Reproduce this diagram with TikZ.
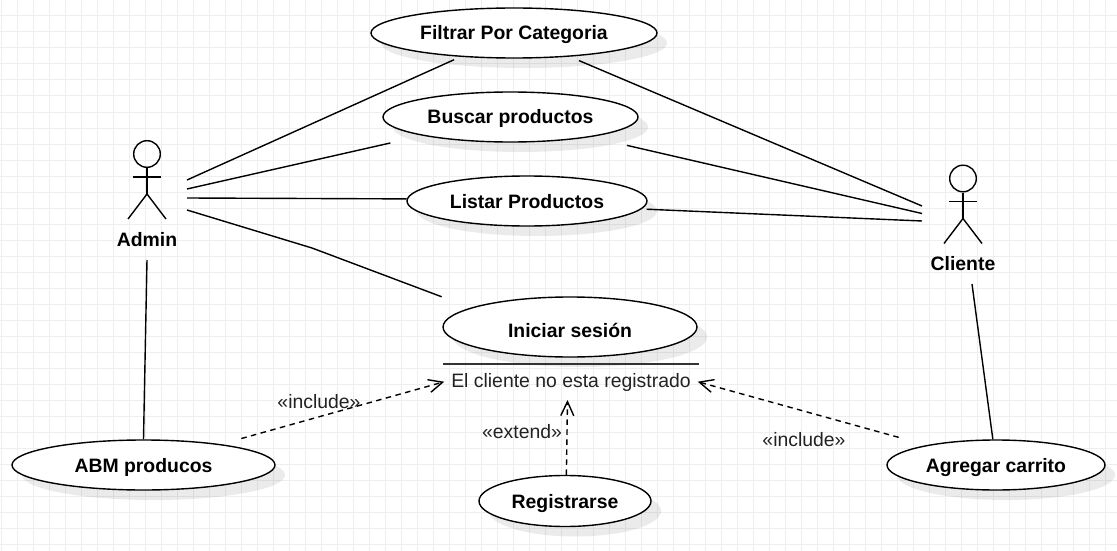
\documentclass[tikz,border=0pt]{standalone}
\usepackage{fontspec}
\setmainfont{Liberation Sans}
\usepackage{xcolor}
\usetikzlibrary{arrows.meta, shapes.geometric, shadows}
\definecolor{gridGray}{RGB}{238, 238, 238}
\definecolor{textDark}{RGB}{34, 34, 34}
\definecolor{ruleDark}{RGB}{51, 51, 51}

\begin{document}
\begin{tikzpicture}[x=1pt, y=-1pt, line width=1.4pt,
    usecase/.style={draw, ellipse, fill=white, inner sep=0pt, text height=14pt, text depth=0pt,
      font=\fontsize{19.4}{22}\selectfont\bfseries,
      drop shadow={shadow xshift=10pt, shadow yshift=-10pt, fill=black, opacity=.08}},
    actorname/.style={font=\fontsize{19.4}{22}\selectfont\bfseries},
    stereo/.style={font=\fontsize{19.4}{22}\selectfont, text=textDark},
    depends/.style={dashed, dash pattern=on 5.5pt off 4.5pt, -{Straight Barb[length=14pt, width=13pt, line width=1.4pt]}}]
  \useasboundingbox (0,0) rectangle (1117,551);
  \fill[white] (0,0) rectangle (1117,551);
  % grid
  \foreach \gx in {1,17,...,1117} \draw[gridGray, line width=1pt] (\gx,0) -- (\gx,551);
  \foreach \gy in {0,16,...,551} \draw[gridGray, line width=1pt] (0,\gy) -- (1117,\gy);

  % use cases
  \node[usecase, minimum width=286pt, minimum height=50pt] (filtrar) at (514,33) {Filtrar Por Categoria};
  \node[usecase, minimum width=255pt, minimum height=50pt] (buscar) at (510.5,117) {Buscar productos};
  \node[usecase, minimum width=240pt, minimum height=50pt] (listar) at (527,201) {Listar Productos};
  \node[usecase, minimum width=254pt, minimum height=60pt, text height=20pt] (iniciar) at (570,327) {Iniciar sesión};
  \node[usecase, minimum width=263pt, minimum height=50pt] (abm) at (143.5,465) {ABM producos};
  \node[usecase, minimum width=172pt, minimum height=51pt] (registrarse) at (565,501) {Registrarse};
  \node[usecase, minimum width=218pt, minimum height=50pt] (agregar) at (996,465) {Agregar carrito};
  \node[stereo, minimum width=254pt, minimum height=35pt, inner sep=0pt] (condicion) at (571,382) {El cliente no esta registrado};
  \draw[ruleDark] (condicion.north west) -- (condicion.north east);

  % actors
  \foreach \who/\ax/\ay/\name in {admin/147/154/Admin, cliente/963/178.5/Cliente} {
    \node[draw, circle, inner sep=0pt, minimum size=26.6pt] (\who Head) at (\ax,\ay) {};
    \draw (\who Head.south) -- ++(0,26) coordinate (\who Hip);
    \draw (\ax-14,\ay+23) -- (\ax+14,\ay+23);
    \draw (\ax-19,\ay+65) -- (\who Hip) -- (\ax+19,\ay+65);
    \node[actorname] (\who) at (\ax,\ay+85.5) {\name};
  }
  \coordinate (adminA) at (187,180);
  \coordinate (adminB) at (187,189);
  \coordinate (adminC) at (187,198);
  \coordinate (adminD) at (187,210);
  \coordinate (bendD) at (312,248);
  \coordinate (adminE) at (147,260);
  \coordinate (clienteA) at (922,206);
  \coordinate (clienteB) at (922,213.5);
  \coordinate (clienteC) at (922,221);
  \coordinate (clienteE) at (972,284);
  \coordinate (extTip) at (567.5,400);

  % associations
  \draw[shorten >=7pt] (adminA) -- (filtrar.204.6);
  \draw[shorten >=33pt] (adminB) -- (buscar.192.5);
  \draw (adminC) -- (listar.179.5);
  \draw[shorten >=31pt] (adminD) -- (bendD) -- (iniciar.169.5);
  \draw (adminE) -- (abm.north);
  \draw[shorten >=10pt] (clienteA) -- (filtrar.337.1);
  \draw[shorten >=37pt] (clienteB) -- (buscar.346.3);
  \draw[shorten >=5pt] (clienteC) -- (listar.356.8);
  \draw (clienteE) -- (agregar.97);

  % include / extend
  \draw[depends, shorten <=21pt, shorten >=-1pt] (abm.15.6) -- (condicion.west);
  \node[stereo] (incIzq) at (319,402) {«include»};
  \draw[depends] (registrarse.87) -- (extTip);
  \node[stereo] (ext) at (522,432) {«extend»};
  \draw[depends, shorten <=29pt, shorten >=-1pt] (agregar.164.4) -- (condicion.east);
  \node[stereo] (incDer) at (804,440) {«include»};
\end{tikzpicture}
\end{document}
